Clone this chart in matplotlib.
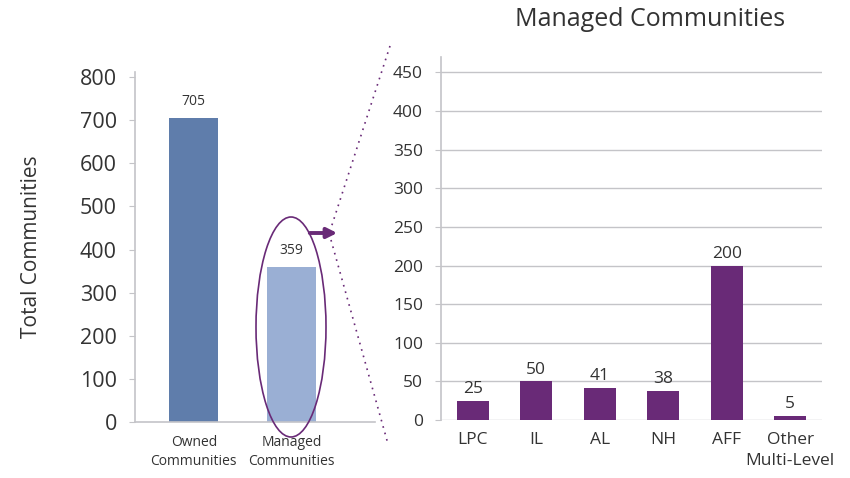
import matplotlib.pyplot as plt
from matplotlib.patches import Ellipse, FancyArrowPatch
from matplotlib.lines import Line2D

plt.rcParams['font.family'] = ['Open Sans', 'DejaVu Sans']

# totals
total_labels = ["Owned\nCommunities", "Managed\nCommunities"]
total_values = [705, 359]
total_colors = ["#5f7dab", "#9aafd4"]

# managed breakdown
managed_labels = ["LPC", "IL", "AL", "NH", "AFF", "Other\nMulti-Level"]
managed_values = [25, 50, 41, 38, 200, 5]
managed_ticks = [0, 50, 100, 150, 200, 250, 300, 350, 400, 450]
total_ticks = [0, 100, 200, 300, 400, 500, 600, 700, 800]

purple = "#692a77"
axis_gray = "#c4c4c8"
text_col = "#333333"

fig = plt.figure(figsize=(8.5, 4.78), dpi=100)

W, H = 850.0, 478.0
def box(x0, y0, x1, y1):
    return [x0 / W, 1 - y1 / H, (x1 - x0) / W, (y1 - y0) / H]

# left chart
ax1 = fig.add_axes(box(135, 72, 375, 422))
x1 = list(range(len(total_values)))
ax1.bar(x1, total_values, width=0.5, color=total_colors)
for xi, v in zip(x1, total_values):
    ax1.text(xi, v + 22, str(v), ha="center", va="bottom", fontsize=10, color=text_col)
ax1.set_xlim(-0.6, 1.85)
ax1.set_ylim(0, 812)
ax1.set_yticks(total_ticks)
ax1.set_yticklabels([str(t) for t in total_ticks], fontsize=15.5, color=text_col)
ax1.set_xticks(x1)
ax1.set_xticklabels(total_labels, fontsize=10, color=text_col, linespacing=1.45)
ax1.tick_params(axis="x", length=0, pad=9)
ax1.tick_params(axis="y", length=4, color=axis_gray, pad=9)
for s in ["top", "right"]:
    ax1.spines[s].set_visible(False)
for s in ["left", "bottom"]:
    ax1.spines[s].set_color(axis_gray)
    ax1.spines[s].set_linewidth(1.2)
ax1.set_ylabel("Total Communities", fontsize=15, color=text_col, labelpad=27)

# right chart
ax2 = fig.add_axes(box(441, 57, 822, 420))
x2 = list(range(len(managed_values)))
ax2.bar(x2, managed_values, width=0.5, color=purple, zorder=3)
for xi, v in zip(x2, managed_values):
    ax2.text(xi, v + 5, str(v), ha="center", va="bottom", fontsize=12.5, color=text_col)
ax2.set_xlim(-0.5, len(managed_values) - 0.5)
ax2.set_ylim(0, 470)
ax2.set_yticks(managed_ticks)
ax2.set_yticklabels([str(t) for t in managed_ticks], fontsize=12.5, color=text_col)
ax2.set_xticks(x2)
ax2.set_xticklabels(managed_labels, fontsize=12.5, color=text_col, linespacing=1.4)
ax2.tick_params(axis="x", length=0, pad=9)
ax2.tick_params(axis="y", length=4, color=axis_gray, pad=9)
ax2.yaxis.grid(True, color=axis_gray, linewidth=1.0)
ax2.set_axisbelow(True)
for s in ["top", "right", "bottom"]:
    ax2.spines[s].set_visible(False)
ax2.spines["left"].set_color(axis_gray)
ax2.spines["left"].set_linewidth(1.2)
fig.text(650 / W, 1 - 19 / H, "Managed Communities", ha="center", va="center",
         fontsize=18, color=text_col)

# ellipse around the managed bar, arrow and dotted zoom lines
ell = Ellipse((291 / W, 1 - 327 / H), 70 / W, 220 / H, transform=fig.transFigure,
              fill=False, edgecolor=purple, linewidth=1.2)
fig.patches.append(ell)
arr = FancyArrowPatch((307 / W, 1 - 233 / H), (340 / W, 1 - 233 / H),
                      transform=fig.transFigure, arrowstyle="-|>", mutation_scale=15,
                      color=purple, linewidth=2.8)
fig.patches.append(arr)
fig.lines.append(Line2D([390 / W, 331 / W], [1 - 46 / H, 1 - 228 / H],
                        transform=fig.transFigure, color=purple, linestyle=(0, (1, 3)),
                        linewidth=1.2))
fig.lines.append(Line2D([331 / W, 388 / W], [1 - 240 / H, 1 - 444 / H],
                        transform=fig.transFigure, color=purple, linestyle=(0, (1, 3)),
                        linewidth=1.2))

fig.savefig("out.png", dpi=100)
